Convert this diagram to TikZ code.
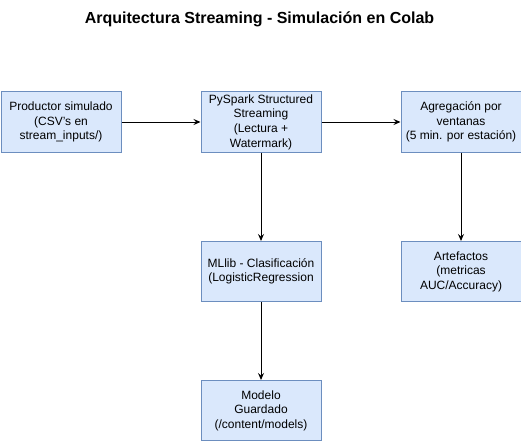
\documentclass[tikz,border=0pt]{standalone}
\usepackage{fontspec}
\setmainfont{Liberation Sans}
\usetikzlibrary{arrows.meta}
\definecolor{boxfill}{HTML}{DAE8FC}
\definecolor{boxline}{HTML}{6C8EBF}
\begin{document}
\begin{tikzpicture}[x=1pt,y=-1pt,
  blk/.style={draw=boxline,fill=boxfill,line width=1pt,minimum width=120pt,minimum height=60pt,
    inner sep=0pt,align=center,font=\fontsize{12}{14.6}\selectfont,anchor=north west},
  conn/.style={draw=black,line width=1pt,-{Stealth[length=7pt,width=6pt,inset=2.5pt]}}]
\useasboundingbox (0,0) rectangle (521,441);
\node[font=\bfseries\fontsize{16}{18}\selectfont] (title) at (259.5,19) {Arquitectura Streaming - Simulación en Colab};
\node[blk] (prod) at (0.5,91.5) {Productor simulado\\(CSV's en\\stream\_inputs/)};
\node[blk] (spark) at (200.5,91.5) {PySpark Structured\\Streaming\\(Lectura +\\Watermark)};
\node[blk] (agg) at (400.5,91.5) {Agregación por\\ventanas\\(5 min. por estación)};
\node[blk] (ml) at (200.5,241) {MLlib - Clasificación\\(LogisticRegression};
\node[blk] (art) at (400.5,241) {Artefactos\\(metricas\\AUC/Accuracy)};
\node[blk] (mod) at (200.5,380) {Modelo\\Guardado\\(/content/models)};
\draw[conn] (prod) -- (spark);
\draw[conn] (spark) -- (agg);
\draw[conn] (spark) -- (ml);
\draw[conn] (agg) -- (art);
\draw[conn] (ml) -- (mod);
\end{tikzpicture}
\end{document}
